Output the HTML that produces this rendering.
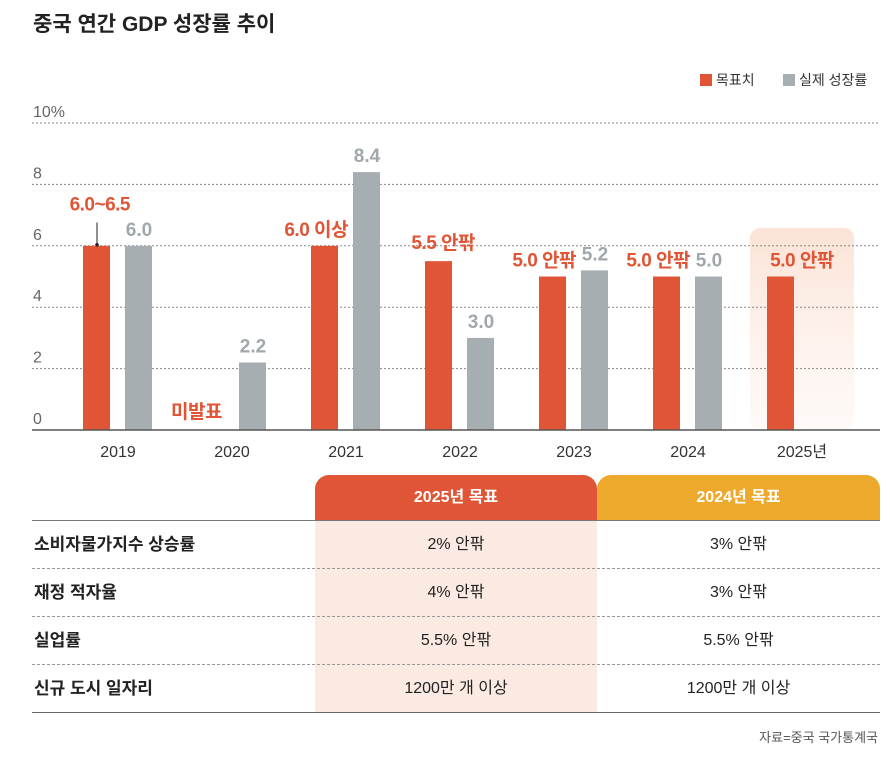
<!DOCTYPE html>
<html><head><meta charset="utf-8">
<style>
body{margin:0;width:890px;height:761px;background:#fff;font-family:"Liberation Sans","Noto Sans CJK KR",sans-serif;overflow:hidden;position:relative}
.t{position:absolute;white-space:nowrap}
</style></head><body>
<div class="t" style="left:33px;top:8px;font-size:21px;font-weight:bold;color:#222">중국 연간 GDP 성장률 추이</div>
<div>
<div style="position:absolute;left:700px;top:74px;width:12px;height:12px;background:#e05535"></div>
<div class="t" style="left:716px;top:70px;font-size:14px;color:#333">목표치</div>
<div style="position:absolute;left:783px;top:74px;width:12px;height:12px;background:#a6aeb2"></div>
<div class="t" style="left:799px;top:70px;font-size:14px;color:#333">실제 성장률</div>
</div>
<svg id="chart" width="890" height="470" style="position:absolute;left:0;top:0">
<defs><linearGradient id="hl" x1="0" y1="0" x2="0" y2="1"><stop offset="0" stop-color="#fbe3d6"/><stop offset="1" stop-color="#fdf2ec" stop-opacity="0.4"/></linearGradient></defs>
</svg>
<div>
<div style="position:absolute;left:315px;top:475px;width:282px;height:238px;background:#fbeae1;border-radius:14px 14px 0 0"></div>
<div class="t" style="left:315px;top:475px;width:282px;height:45px;background:#e05535;border-radius:14px 14px 0 0;color:#fff;font-size:16px;font-weight:bold;text-align:center;line-height:45px">2025년 목표</div>
<div class="t" style="left:597px;top:475px;width:283px;height:45px;background:#eca92c;border-radius:14px 14px 0 0;color:#fff;font-size:16px;font-weight:bold;text-align:center;line-height:45px">2024년 목표</div>
<div style="position:absolute;left:32px;top:520px;width:848px;height:1px;background:#777"></div>
<div style="position:absolute;left:32px;top:568px;width:848px;border-top:1px dashed #999"></div>
<div style="position:absolute;left:32px;top:616px;width:848px;border-top:1px dashed #999"></div>
<div style="position:absolute;left:32px;top:664px;width:848px;border-top:1px dashed #999"></div>
<div style="position:absolute;left:32px;top:712px;width:848px;height:1px;background:#666"></div>
<div id="rows"></div>
<div class="t" style="right:12px;top:727px;font-size:13px;color:#555">자료=중국 국가통계국</div>
</div>
<script>
const years=["2019","2020","2021","2022","2023","2024","2025년"];
const targets=[6.0,null,6.0,5.5,5.0,5.0,5.0];
const targetLabels=["6.0~6.5","미발표","6.0 이상","5.5 안팎","5.0 안팎","5.0 안팎","5.0 안팎"];
const actuals=[6.0,2.2,8.4,3.0,5.2,5.0,null];
const yTicks=[0,2,4,6,8,10];
const rowLabels=["소비자물가지수 상승률","재정 적자율","실업률","신규 도시 일자리"];
const goals2025=["2% 안팎","4% 안팎","5.5% 안팎","1200만 개 이상"];
const goals2024=["3% 안팎","3% 안팎","5.5% 안팎","1200만 개 이상"];

const svg=document.getElementById('chart');const NS="http://www.w3.org/2000/svg";
const y=v=>430-v*30.7;const xc=i=>118+i*114;
function mk(tag,at,txt){const e=document.createElementNS(NS,tag);for(const k in at)e.setAttribute(k,at[k]);if(txt!=null)e.textContent=txt;svg.appendChild(e);return e;}
let h=mk('rect',{x:xc(6)-52,y:228,width:104,height:202,rx:10,fill:'url(#hl)'});


yTicks.forEach(t=>{
 if(t>0){let l=mk('line',{x1:32,x2:880,y1:y(t),y2:y(t),stroke:'#888','stroke-dasharray':'2,2','stroke-width':1});
 
 }
 let tx=mk('text',{x:33,y:y(t)-6,'font-size':16,fill:'#666'},t===10?'10%':String(t));
 
 
});
years.forEach((yr,i)=>{
 const c=xc(i);
 if(targets[i]!=null){let r=mk('rect',{x:c-35,y:y(targets[i]),width:27,height:430-y(targets[i]),fill:'#e05535'});
  
  }
 if(actuals[i]!=null){let r=mk('rect',{x:c+7,y:y(actuals[i]),width:27,height:430-y(actuals[i]),fill:'#a6aeb2'});
  
  
  let t=mk('text',{x:c+21,y:y(actuals[i])-10,'text-anchor':'middle','font-size':19,fill:'#a0a8ac','font-weight':'bold'},actuals[i].toFixed(1));
  
  }
 let lx,ly,anchor='end';
 if(i===0){lx=c+12;ly=y(6.5)-20;}
 else if(i===1){lx=c-10;ly=418;}
 else if(i===6){lx=c;ly=y(targets[i])-10;anchor='middle';}
 else if(i===3){lx=c+15;ly=y(targets[i])-12;}
 else {lx=c+2;ly=y(targets[i])-10;}
 let tl=mk('text',{x:lx,y:ly,'text-anchor':anchor,'font-size':19,fill:'#e05535','font-weight':'bold','letter-spacing':'-0.5'},targetLabels[i]);
 
 
 let xl=mk('text',{x:c,y:457,'text-anchor':'middle','font-size':16,fill:'#333'},yr);
 
 
});
let ar=mk('line',{x1:97,x2:97,y1:y(6.5)-8,y2:y(6)-2,stroke:'#222','stroke-width':1});


let dot=mk('circle',{cx:97,cy:y(6)-1,r:1.8,fill:'#222'});


let base=mk('line',{x1:32,x2:880,y1:430,y2:430,stroke:'#555','stroke-width':1.5});



const rows=document.getElementById('rows');
rowLabels.forEach((lab,i)=>{
 const top=521+i*48;
 const add=(txt,style,name)=>{const d=document.createElement('div');d.className='t';d.textContent=txt;d.style.cssText=style;
  
  
  rows.appendChild(d);};
 add(lab,`left:34px;top:${top}px;line-height:48px;font-size:17px;font-weight:bold;color:#222`,'row-label-'+(i+1));
 add(goals2025[i],`left:315px;width:282px;text-align:center;top:${top}px;line-height:48px;font-size:16px;color:#222`,'goal-2025-'+(i+1));
 add(goals2024[i],`left:597px;width:283px;text-align:center;top:${top}px;line-height:48px;font-size:16px;color:#222`,'goal-2024-'+(i+1));
});
</script>
</body></html>
